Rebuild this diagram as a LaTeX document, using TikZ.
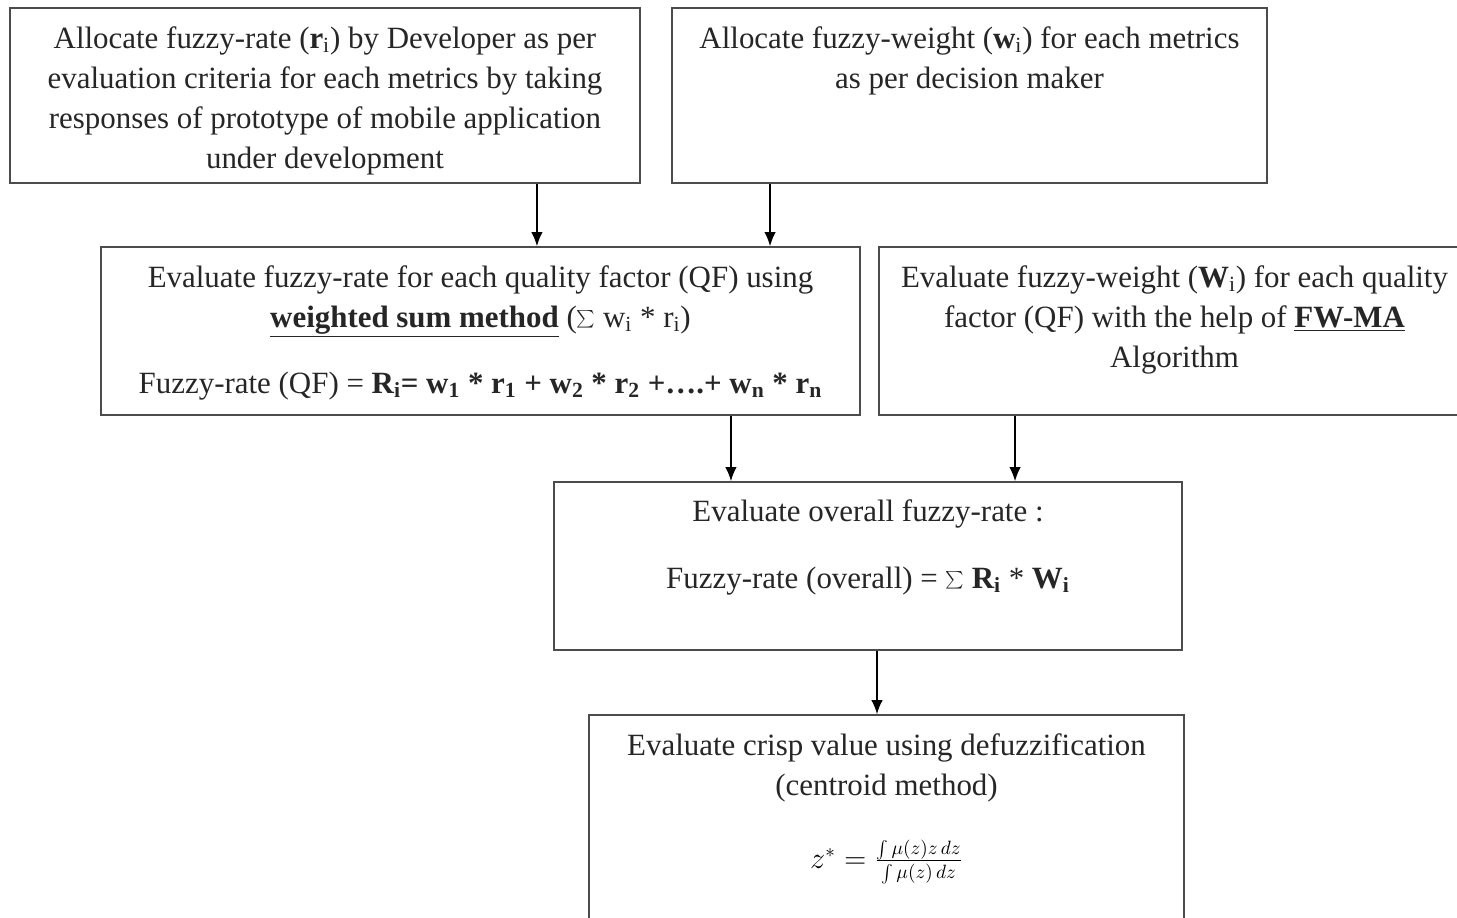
\documentclass[tikz,border=0pt]{standalone}
\usepackage{fontspec}
\setmainfont{Liberation Serif}
\usetikzlibrary{arrows.meta}

\begin{document}
\begin{tikzpicture}[x=0.02cm,y=-0.02cm,
  box/.style={draw=black!70,line width=0.9pt,inner sep=0pt},
  txt/.style={align=center,anchor=north,inner sep=0pt,text=black!85,
    font=\fontsize{17.6}{22.8}\selectfont},
  arr/.style={-{Latex[length=8pt,width=6.5pt]},line width=0.9pt}]
\clip (0,0) rectangle (1457,918);
\fill[white] (0,0) rectangle (1457,918);

% boxes
\node[box,minimum width=12.6cm,minimum height=3.5cm] (rate) at (325,95.5) {};
\node[box,minimum width=11.9cm,minimum height=3.5cm] (weight) at (969.5,95.5) {};
\node[box,minimum width=15.18cm,minimum height=3.36cm] (qfrate) at (480.5,331) {};
\node[box,minimum width=11.82cm,minimum height=3.36cm] (qfweight) at (1174.5,331) {};
\node[box,minimum width=12.56cm,minimum height=3.36cm] (overall) at (868,566) {};
\node[box,minimum width=11.9cm,minimum height=4.6cm] (crisp) at (886.5,830) {};

% texts
\node[txt] (ratetext) at (325,26) {Allocate fuzzy-rate (\textbf{r}\textsubscript{i}) by Developer as per\\
  evaluation criteria for each metrics by taking\\
  responses of prototype of mobile application\\
  under development};
\node[txt] (weighttext) at (969.5,26) {Allocate fuzzy-weight (\textbf{w}\textsubscript{i}) for each metrics\\
  as per decision maker};
\node[txt] (qfratetext) at (480.5,265) {Evaluate fuzzy-rate for each quality factor (QF) using\\
  \underline{\textbf{weighted sum method}} ($\textstyle\sum$ w\textsubscript{i} * r\textsubscript{i})\\[0.52cm]
  Fuzzy-rate (QF) = \textbf{R\textsubscript{i}= w\textsubscript{1} * r\textsubscript{1} + w\textsubscript{2} * r\textsubscript{2} +\dots.+ w\textsubscript{n} * r\textsubscript{n}}};
\node[txt] (qfweighttext) at (1174.5,265) {Evaluate fuzzy-weight (\textbf{W}\textsubscript{i}) for each quality\\
  factor (QF) with the help of \underline{\textbf{FW-MA}}\\
  Algorithm};
\node[txt] (overalltext) at (868,499) {Evaluate overall fuzzy-rate :\\[0.54cm]
  Fuzzy-rate (overall) = $\textstyle\sum$ \textbf{R\textsubscript{i}} * \textbf{W\textsubscript{i}}};
\node[txt] (crisptext) at (886.5,733) {Evaluate crisp value using defuzzification\\
  (centroid method)};
\node[inner sep=0pt,font=\fontsize{16}{19}\selectfont] (crispformula) at (886.5,862)
  {$z^{*}=\frac{\int\mu(z)z\,dz}{\int\mu(z)\,dz}$};

% arrows
\draw[arr] ([xshift=4.24cm]rate.south) coordinate (ra) -- (ra |- qfrate.north);
\draw[arr] ([xshift=-3.99cm]weight.south) coordinate (wa) -- (wa |- qfrate.north);
\draw[arr] ([xshift=5.01cm]qfrate.south) coordinate (qa) -- (qa |- overall.north);
\draw[arr] ([xshift=-3.19cm]qfweight.south) coordinate (qwa) -- (qwa |- overall.north);
\draw[arr] ([xshift=0.18cm]overall.south) coordinate (oa) -- (oa |- crisp.north);
\end{tikzpicture}
\end{document}
